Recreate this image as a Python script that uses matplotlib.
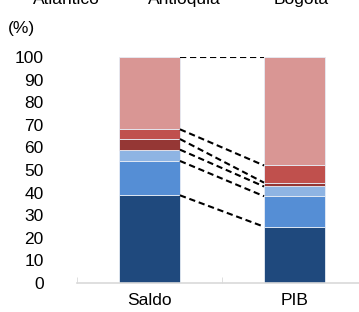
import matplotlib
matplotlib.use("Agg")
import matplotlib.pyplot as plt
import numpy as np

plt.rcParams['font.family'] = ['Liberation Sans', 'DejaVu Sans']

categories = ['Saldo', 'PIB']
# stacked shares (%) bottom to top
seg_darkblue = [38.8, 24.9]
seg_blue = [15.2, 13.5]
seg_lightblue = [5.0, 4.3]
seg_darkred = [4.7, 1.7]
seg_red = [4.3, 7.6]
seg_pink = [32.0, 48.0]
legend_names = ['Atlántico', 'Antioquia', 'Bogotá']

colors = ['#1F497D', '#558ED5', '#8EB4E3', '#953735', '#C0504D', '#D99694']
segments = [seg_darkblue, seg_blue, seg_lightblue, seg_darkred, seg_red, seg_pink]

fig = plt.figure(figsize=(3.59, 3.12), dpi=100)
# axes runs a little past the right edge, as in the source
ax = fig.add_axes([77 / 359, 1 - 283 / 312, (367 - 77) / 359, (283 - 57) / 312])

x = np.arange(len(categories))
width = 0.42
bottom = np.zeros(len(categories))
for seg, c in zip(segments, colors):
    ax.bar(x, seg, width, bottom=bottom, color=c, edgecolor='#E6ECF5', linewidth=0.6)
    bottom = bottom + np.array(seg)

# dashed connectors between cumulative boundaries
cum = np.cumsum(np.array(segments), axis=0)
for row in range(len(segments)):
    ax.plot([x[0] + width / 2, x[1] - width / 2], [cum[row][0], cum[row][1]],
            color='black', linestyle=(0, (3, 1.8)), linewidth=1.5)

ax.set_xlim(-0.5, 1.5)
ax.set_ylim(0, 100)
ax.set_yticks(range(0, 101, 10))
ax.set_xticks(x)
ax.set_xticklabels(categories, fontsize=12.5)
ax.tick_params(axis='y', length=0, pad=24, labelsize=12.5)
ax.tick_params(axis='x', length=0, pad=7)
ax.set_xticks([-0.5, 0.5, 1.5], minor=True)
ax.tick_params(axis='x', which='minor', length=4, color='#D9D9D9', direction='in')
for s in ['top', 'right', 'left']:
    ax.spines[s].set_visible(False)
ax.spines['bottom'].set_color('#D9D9D9')
ax.spines['bottom'].set_linewidth(1.2)

fig.text(8 / 359, 1 - 29 / 312, '(%)', fontsize=12.5, va='center', ha='left')

# legend row cut off at the top of the image
for name, xc in zip(legend_names, [66, 184, 301]):
    fig.text(xc / 359, 1 - 4 / 312, name, fontsize=12.5, ha='center', va='baseline')

fig.savefig('out.png', dpi=100)
